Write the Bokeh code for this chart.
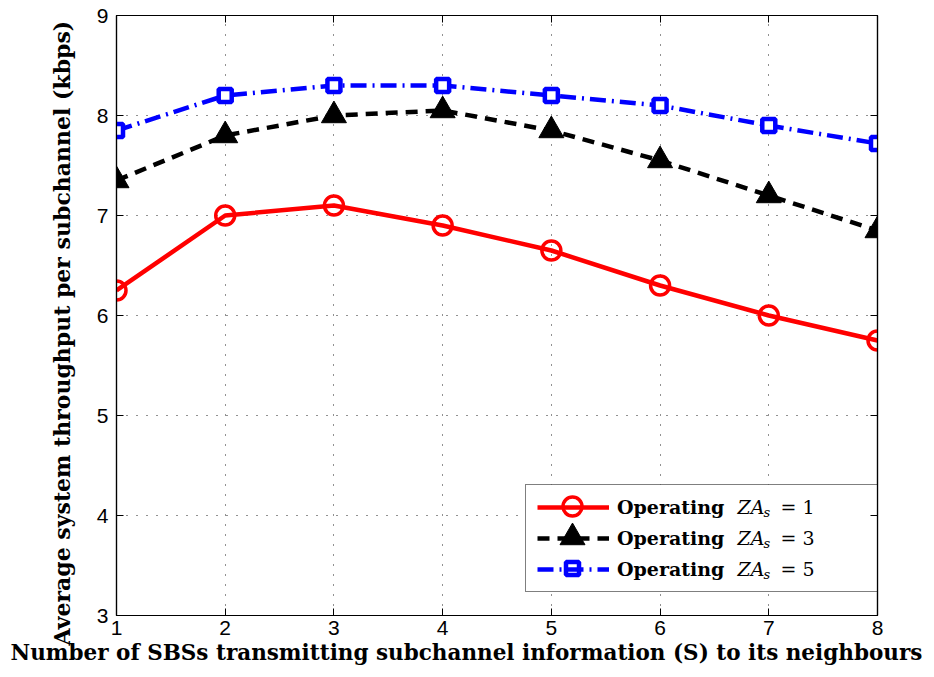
from bokeh.plotting import figure
from bokeh.models import (Range1d, FixedTicker, LinearAxis, Legend, LegendItem, Title,
                          ColumnDataSource)
from bokeh.core.properties import value
from bokeh.embed import file_html
from bokeh.resources import INLINE

# ---- data ----
s_values = [1, 2, 3, 4, 5, 6, 7, 8]
za1 = [6.25, 7.0, 7.1, 6.9, 6.65, 6.3, 6.0, 5.75]
za3 = [7.35, 7.8, 8.0, 8.05, 7.85, 7.55, 7.2, 6.85]
za5 = [7.85, 8.2, 8.3, 8.3, 8.2, 8.1, 7.9, 7.72]
x_ticks = [1, 2, 3, 4, 5, 6, 7, 8]
y_ticks = [3, 4, 5, 6, 7, 8, 9]
legend_prefix = "Operating"
legend_vals = ["1", "3", "5"]
x_label = "Number of SBSs transmitting subchannel information (S) to its neighbours"
y_label = "Average system throughput per subchannel (kbps)"

W, H = 930, 672
BL, BR, BT, BB = 116, 53, 15, 57
FW, FH = W - BL - BR, H - BT - BB
XMIN, XMAX, YMIN, YMAX = 1, 8, 3, 9

p = figure(width=W, height=H, output_backend="svg", toolbar_location=None,
           x_range=Range1d(XMIN, XMAX), y_range=Range1d(YMIN, YMAX),
           min_border_left=BL, min_border_right=BR, min_border_top=BT, min_border_bottom=BB)
p.outline_line_color = "black"
p.outline_line_width = 1.2
p.background_fill_color = "white"
p.border_fill_color = "white"

TICK_FONT = "Liberation Sans"
LAB_FONT = "DejaVu Serif"

for ax in (p.xaxis[0], p.yaxis[0]):
    ax.major_tick_in = 7
    ax.major_tick_out = 0
    ax.minor_tick_line_color = None
    ax.axis_line_color = "black"
    ax.axis_line_width = 1.2
    ax.major_tick_line_color = "black"
    ax.major_label_text_font = TICK_FONT
    ax.major_label_text_font_size = "21px"
    ax.major_label_text_color = "black"

p.xaxis[0].ticker = FixedTicker(ticks=x_ticks)
p.yaxis[0].ticker = FixedTicker(ticks=y_ticks)
p.xaxis[0].major_label_standoff = 5
p.yaxis[0].major_label_standoff = 8

# axis titles as Titles so they can be shifted off the frame centre like the original
xt = Title(text=x_label, align="left", offset=10 - BL, standoff=0,
           text_font=LAB_FONT, text_font_style="bold", text_font_size="21.5px",
           text_color="black")
p.add_layout(xt, "below")
yt = Title(text=y_label, align="left", offset=-30, standoff=38,
           text_font=LAB_FONT, text_font_style="bold", text_font_size="22px",
           text_color="black")
p.add_layout(yt, "left")

# mirrored axes (ticks only)
for loc, tks in (("right", y_ticks), ("above", x_ticks)):
    a = LinearAxis(ticker=FixedTicker(ticks=tks))
    a.major_label_text_font_size = "0px"
    a.major_label_text_color = None
    a.major_tick_in = 7
    a.major_tick_out = 0
    a.minor_tick_line_color = None
    a.axis_line_color = "black"
    a.axis_line_width = 1.2
    p.add_layout(a, loc)

p.xgrid.ticker = FixedTicker(ticks=x_ticks)
p.ygrid.ticker = FixedTicker(ticks=y_ticks)
for g in (p.xgrid[0], p.ygrid[0]):
    g.grid_line_color = "#222222"
    g.grid_line_dash = "1 9"
    g.grid_line_width = 1

# ---- series ----
STY1 = dict(marker="circle", size=19, line_color="#ff0000", line_width=3.5, fill_color=None)
STY3 = dict(marker="triangle", size=25, line_color="black", fill_color="black")
STY5 = dict(marker="square", size=13, line_color="#0000ff", line_width=4.5, fill_color="white")
r1l = p.line(s_values, za1, line_color="#ff0000", line_width=4.5)
p.scatter(s_values, za1, **STY1)
r3l = p.line(s_values, za3, line_color="black", line_width=4.5, line_dash="12 8")
p.scatter(s_values, za3, **STY3)
r5l = p.line(s_values, za5, line_color="#0000ff", line_width=4.5, line_dash="16 6 2 6")
p.scatter(s_values, za5, **STY5)

# ---- legend ----
LEG_X, LEG_Y = 409, 23
PAD, SPACING, ROW_H = 11, 9, 22
GLYPH_W, STANDOFF, LABEL_W = 72, 8, 249
legend = Legend(items=[
    LegendItem(label=legend_prefix, renderers=[r1l]),
    LegendItem(label=legend_prefix, renderers=[r3l]),
    LegendItem(label=legend_prefix, renderers=[r5l]),
], location=(LEG_X, LEG_Y))
legend.margin = 0
legend.padding = PAD
legend.spacing = SPACING
legend.glyph_width = GLYPH_W
legend.glyph_height = ROW_H
legend.label_height = ROW_H
legend.label_width = LABEL_W
legend.label_standoff = STANDOFF
legend.label_text_font = LAB_FONT
legend.label_text_font_style = "bold"
legend.label_text_font_size = "19px"
legend.label_text_color = "black"
legend.border_line_color = "black"
legend.border_line_width = 1.2
legend.background_fill_alpha = 0.0
p.add_layout(legend, "center")

# legend background, full-size markers and math parts, placed from the legend layout
def to_dx(sx):
    return XMIN + sx * (XMAX - XMIN) / FW

def to_dy(sy):
    return YMIN + sy * (YMAX - YMIN) / FH

leg_w = 2 * PAD + GLYPH_W + STANDOFF + LABEL_W
leg_h = 2 * PAD + 3 * ROW_H + 2 * SPACING + 2
p.quad(left=[to_dx(LEG_X)], right=[to_dx(LEG_X + leg_w)], bottom=[to_dy(LEG_Y)],
       top=[to_dy(LEG_Y + leg_h)], fill_color="white", line_color=None)

row_cy = [LEG_Y + leg_h - PAD - ROW_H / 2 - i * (ROW_H + SPACING) for i in range(3)]
gx = to_dx(LEG_X + PAD + GLYPH_W / 2)
for sty, cy in zip((STY1, STY3, STY5), row_cy):
    p.scatter([gx], [to_dy(cy)], **sty)

tx = LEG_X + PAD + GLYPH_W + STANDOFF
za_src = ColumnDataSource(dict(x=[to_dx(tx + 121)] * 3, y=[to_dy(c) for c in row_cy], t=["ZA"] * 3))
s_src = ColumnDataSource(dict(x=[to_dx(tx + 147)] * 3, y=[to_dy(c - 6) for c in row_cy], t=["s"] * 3))
eq_src = ColumnDataSource(dict(x=[to_dx(tx + 164)] * 3, y=[to_dy(c) for c in row_cy],
                               t=["= " + v for v in legend_vals]))
p.text("x", "y", text="t", source=za_src, text_font=value(LAB_FONT),
       text_font_style="italic", text_font_size="19px", text_baseline="middle",
       text_color="black")
p.text("x", "y", text="t", source=s_src, text_font=value(LAB_FONT),
       text_font_style="italic", text_font_size="13px", text_baseline="middle",
       text_color="black")
p.text("x", "y", text="t", source=eq_src, text_font=value(LAB_FONT),
       text_font_size="19px", text_baseline="middle", text_color="black")

open("out.html", "w").write(file_html(p, INLINE))
